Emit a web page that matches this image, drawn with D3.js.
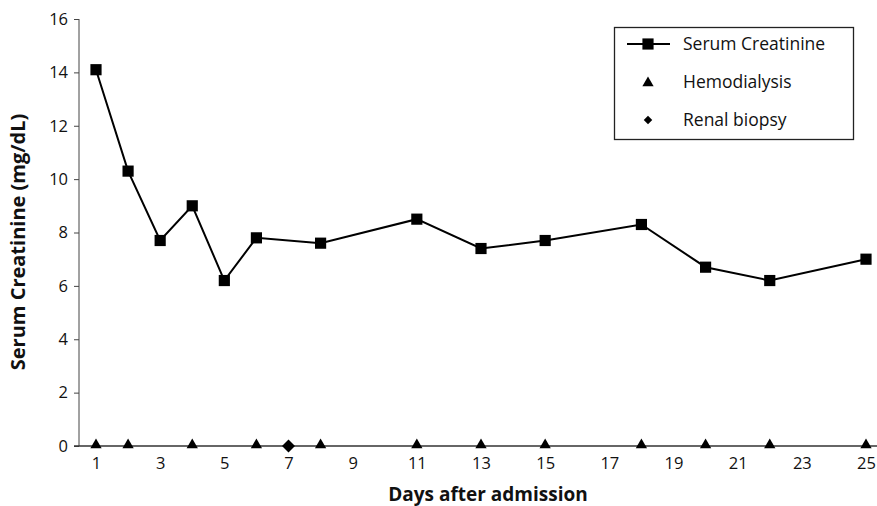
<!DOCTYPE html>
<html>
<head>
<meta charset="utf-8">
<script src="https://cdn.jsdelivr.net/npm/d3@7"></script>
<style>
  body { margin: 0; background: #fff; }
  svg text { font-family: "Open Sans", "Noto Sans", sans-serif; fill: #111; }
</style>
</head>
<body>
<div id="chart"></div>
<script>
// chart size
const width = 877;
const height = 506;
const margin = {left: 79, right: 11, top: 19, bottom: 60};

// data
const creatDays = [1, 2, 3, 4, 5, 6, 8, 11, 13, 15, 18, 20, 22, 25];
const creatValues = [14.1, 10.3, 7.7, 9.0, 6.2, 7.8, 7.6, 8.5, 7.4, 7.7, 8.3, 6.7, 6.2, 7.0];
const dialysisDays = [1, 2, 4, 6, 8, 11, 13, 15, 18, 20, 22, 25];
const biopsyDays = [7];
const xTicks = [1, 3, 5, 7, 9, 11, 13, 15, 17, 19, 21, 23, 25];
const yTicks = [0, 2, 4, 6, 8, 10, 12, 14, 16];
const legendLabels = ["Serum Creatinine", "Hemodialysis", "Renal biopsy"];

const svg = d3.select("#chart")
  .append("svg")
  .attr("width", width)
  .attr("height", height);

// scales
const x = d3.scaleLinear()
  .domain([1, 25])
  .range([96, 866]);

const y = d3.scaleLinear()
  .domain([0, 16])
  .range([height - margin.bottom, margin.top]);

// y axis
const yAxis = svg.append("g")
  .attr("transform", `translate(${margin.left},0)`)
  .call(d3.axisLeft(y).tickValues(yTicks).tickSize(5).tickPadding(6));
yAxis.select(".domain").attr("stroke", "#444").attr("d", `M0,${y(16)}V${y(0)}`);
yAxis.selectAll(".tick line").attr("stroke", "#444");
yAxis.selectAll("text").attr("font-size", "16.5px").attr("fill", "#111");

// x axis - no tick marks, just the line
const xAxis = svg.append("g")
  .attr("transform", `translate(0,${y(0)})`)
  .call(d3.axisBottom(x).tickValues(xTicks).tickSize(0).tickPadding(11));
xAxis.select(".domain").attr("stroke", "#333").attr("stroke-width", 1.3)
  .attr("d", `M${margin.left - 5},0H${width}`);
xAxis.selectAll("text").attr("font-size", "16.5px").attr("fill", "#111");

// axis titles
svg.append("text")
  .attr("x", 488)
  .attr("y", 501)
  .attr("text-anchor", "middle")
  .attr("font-size", "19px")
  .attr("font-weight", "bold")
  .text("Days after admission");

svg.append("text")
  .attr("transform", `translate(25,242) rotate(-90)`)
  .attr("text-anchor", "middle")
  .attr("font-size", "20px")
  .attr("font-weight", "bold")
  .text("Serum Creatinine (mg/dL)");

// creatinine line
const line = d3.line()
  .x((d, i) => x(creatDays[i]))
  .y(d => y(d));

svg.append("path")
  .datum(creatValues)
  .attr("fill", "none")
  .attr("stroke", "#000")
  .attr("stroke-width", 2)
  .attr("d", line);

const square = d3.symbol().type(d3.symbolSquare).size(125);
const triangle = d3.symbol().type(d3.symbolTriangle).size(55);
// diamond = square turned 45 degrees
const diamond = d3.symbol().type(d3.symbolSquare).size(85);
const smallDiamond = d3.symbol().type(d3.symbolSquare).size(36);

svg.selectAll(".sq")
  .data(creatValues)
  .enter()
  .append("path")
    .attr("class", "sq")
    .attr("d", square)
    .attr("transform", (d, i) => `translate(${x(creatDays[i])},${y(d)})`)
    .attr("fill", "#000");

// hemodialysis markers on the baseline
svg.selectAll(".tri")
  .data(dialysisDays)
  .enter()
  .append("path")
    .attr("class", "tri")
    .attr("d", triangle)
    .attr("transform", d => `translate(${x(d)},${y(0) - 1})`)
    .attr("fill", "#000");

svg.selectAll(".dia")
  .data(biopsyDays)
  .enter()
  .append("path")
    .attr("class", "dia")
    .attr("d", diamond)
    .attr("transform", d => `translate(${x(d)},${y(0)}) rotate(45)`)
    .attr("fill", "#000");

// legend
const legend = svg.append("g");
legend.append("rect")
  .attr("x", 614.5).attr("y", 27.5)
  .attr("width", 239).attr("height", 112)
  .attr("fill", "#fff")
  .attr("stroke", "#222")
  .attr("stroke-width", 1.3);

const legendY = [44, 82, 120];
legend.append("line")
  .attr("x1", 627).attr("x2", 670)
  .attr("y1", legendY[0]).attr("y2", legendY[0])
  .attr("stroke", "#000").attr("stroke-width", 2);
legend.append("path").attr("d", square)
  .attr("transform", `translate(648,${legendY[0]})`).attr("fill", "#000");
legend.append("path").attr("d", triangle)
  .attr("transform", `translate(648,${legendY[1] + 1})`).attr("fill", "#000");
legend.append("path").attr("d", smallDiamond)
  .attr("transform", `translate(648,${legendY[2]}) rotate(45)`).attr("fill", "#000");

legend.selectAll(".lt")
  .data(legendLabels)
  .enter()
  .append("text")
    .attr("class", "lt")
    .attr("x", 683)
    .attr("y", (d, i) => legendY[i])
    .attr("dy", "0.35em")
    .attr("font-size", "17.5px")
    .text(d => d);
</script>
</body>
</html>
